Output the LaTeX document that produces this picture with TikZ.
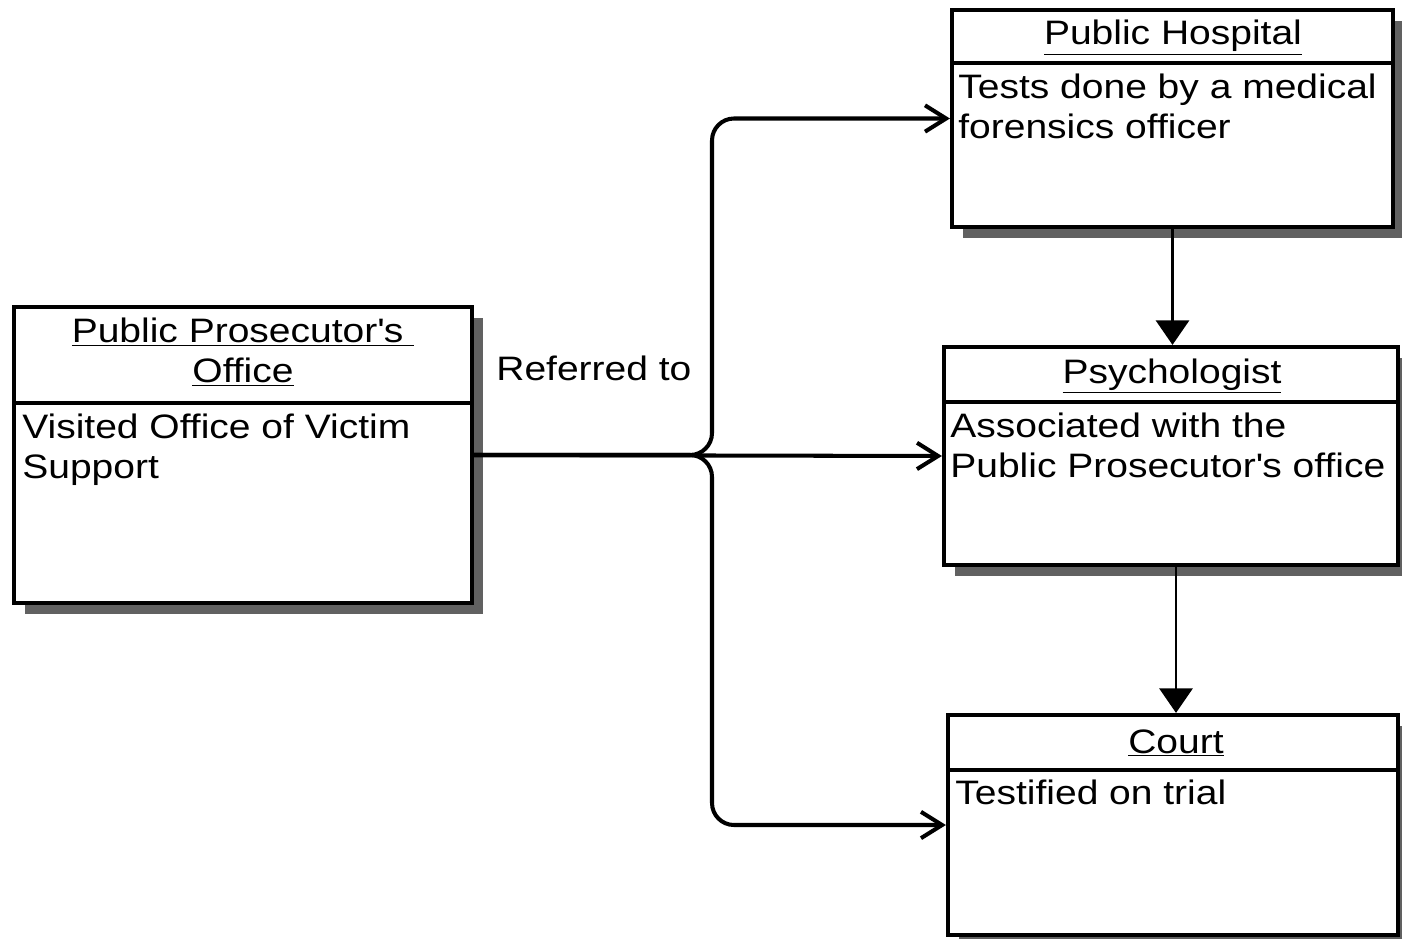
\documentclass[tikz,border=0pt]{standalone}
\usepackage{fontspec}
\setmainfont{Liberation Sans}[FakeStretch=1.15]
\usetikzlibrary{arrows.meta,shadows}
\begin{document}
\begin{tikzpicture}[x=0.02cm,y=-0.02cm,
  box/.style 2 args={draw, line width=2.4pt, fill=white,
    minimum width={#1*0.02cm}, minimum height={#2*0.02cm}, inner sep=0pt,
    drop shadow={fill=black!62, opacity=1, shadow xshift=6.5pt, shadow yshift=-6.5pt}},
  divider/.style={line width=2.4pt},
  txt/.style={inner sep=0pt, font=\fontsize{19.3}{22.8}\selectfont, text=black},
  title/.style={txt, align=center},
  body/.style={txt, align=left, anchor=north west},
  conn/.style={line width=2.3pt, -{Straight Barb[length=12pt,width=15pt]}, rounded corners=0.44cm},
  varrow/.style={line width=1.2pt, -{Triangle[length=14pt,width=19pt]}}
]
\useasboundingbox (0,0) rectangle (1402,939);

% boxes
\node[box={458}{296}] (pp) at (243,455) {};
\node[box={441}{217}] (hosp) at (1172.5,118.5) {};
\node[box={454}{218}] (psy) at (1171,456) {};
\node[box={450}{220}] (court) at (1173,825) {};

% dividers
\draw[divider] (14,403) -- (472,403);
\draw[divider] (952,63) -- (1393,63);
\draw[divider] (944,402) -- (1398,402);
\draw[divider] (948,770) -- (1398,770);

% titles
\node[title] (ppt) at (243,352) {\underline{Public Prosecutor\textquotesingle s\ }\\\underline{Office}};
\node[title, anchor=base] (hospt) at (1173,45) {\underline{Public Hospital}};
\node[title, anchor=base] (psyt) at (1172,383) {\underline{Psychologist}};
\node[title, anchor=base] (courtt) at (1176,753) {\underline{Court}};

% bodies
\node[body] (ppb) at (22,414) {Visited Office of Victim\\Support};
\node[body] (hospb) at (958,74) {Tests done by a medical\\forensics officer};
\node[body] (psyb) at (950,413) {Associated with the\\Public Prosecutor\textquotesingle s office};
\node[body] (courtb) at (955,780) {Testified on trial};

% label
\node[txt, anchor=west] (ref) at (496,368) {Referred to};

% connectors
\coordinate (j) at (712,455);
\draw[conn] (pp.east) -- (j) -- (j |- hosp.west) -- (hosp.west);
\draw[conn] (pp.east) -- (psy.west);
\draw[conn] (pp.east) -- (j) -- (j |- court.west) -- (court.west);

\draw[varrow] (hosp.south) -- (hosp.south |- psy.north);
\draw[varrow] ([xshift=0.1cm]psy.south) -- ([xshift=0.1cm]psy.south |- court.north);
\end{tikzpicture}
\end{document}
